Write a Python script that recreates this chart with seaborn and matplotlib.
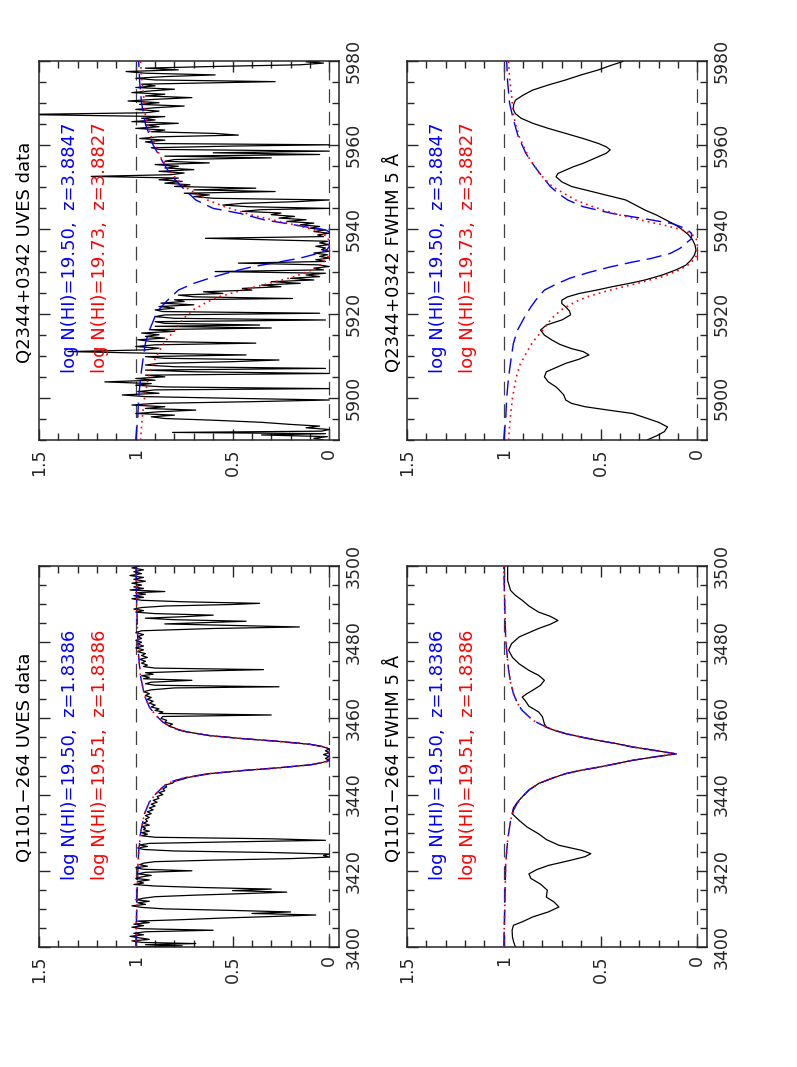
import numpy as np
import pandas as pd
import matplotlib
matplotlib.use("Agg")
import matplotlib.pyplot as plt
import seaborn as sns
from matplotlib.ticker import MultipleLocator, FixedLocator, FuncFormatter

sns.set_style("ticks")
plt.rcParams["font.family"] = ["DejaVu Sans"]

# ---------------- data (wavelength [A], normalised flux) ----------------
q2344_uves = [
    (5890.0, 0.03), (5890.4, 0.08), (5890.8, 0.01), (5891.2, 0.35), (5891.5, 0.02), (5891.8, 0.81),
    (5892.1, 0.04), (5892.5, 0.00), (5892.9, 0.12), (5893.3, 0.05), (5893.7, 0.20), (5894.2, 0.35),
    (5894.7, 0.60), (5895.1, 0.85), (5895.5, 0.92), (5895.9, 0.80), (5896.3, 1.00), (5896.7, 0.88),
    (5897.1, 0.69), (5897.5, 0.95), (5897.9, 0.85), (5898.3, 1.02), (5898.7, 0.90), (5899.1, 0.40),
    (5899.5, 0.00), (5899.9, 0.50), (5900.3, 0.95), (5900.7, 1.07), (5901.1, 0.88), (5901.5, 0.99),
    (5901.9, 0.90), (5902.2, 0.00), (5902.6, 0.85), (5903.0, 1.00), (5903.4, 0.92), (5903.8, 1.16),
    (5904.2, 0.90), (5904.6, 1.00), (5905.0, 0.85), (5905.4, 0.95), (5905.8, 0.00), (5906.2, 0.70),
    (5906.6, 0.95), (5907.0, 0.02), (5907.4, 0.80), (5907.8, 0.95), (5908.2, 0.88), (5908.6, 0.50),
    (5909.0, 0.26), (5909.4, 0.85), (5909.8, 0.95), (5910.2, 0.43), (5910.6, 0.92), (5911.0, 1.35),
    (5911.4, 0.95), (5911.8, 0.88), (5912.2, 1.00), (5912.6, 0.90), (5913.0, 0.38), (5913.4, 0.92),
    (5913.8, 0.99), (5914.2, 0.85), (5914.6, 0.95), (5915.0, 0.88), (5915.4, 0.97), (5915.8, 0.80),
    (5916.2, 0.93), (5916.6, 0.30), (5917.0, 0.90), (5917.3, 0.36), (5917.7, 0.85), (5918.1, 0.90),
    (5918.5, 0.02), (5918.9, 0.80), (5919.3, 0.90), (5919.7, 0.85), (5920.1, 0.05), (5920.5, 0.86),
    (5920.9, 0.90), (5921.3, 0.80), (5921.7, 0.88), (5922.1, 0.70), (5922.5, 0.87), (5922.9, 0.75),
    (5923.3, 0.80), (5923.6, 0.19), (5924.0, 0.70), (5924.4, 0.78), (5924.8, 0.55), (5925.2, 0.65),
    (5925.6, 0.40), (5926.0, 0.45), (5926.4, 0.25), (5926.8, 0.35), (5927.2, 0.15), (5927.6, 0.30),
    (5928.0, 0.08), (5928.4, 0.20), (5928.8, 0.05), (5929.2, 0.12), (5929.6, 0.02), (5930.0, 0.59),
    (5930.4, 0.03), (5930.8, 0.08), (5931.2, 0.00), (5931.6, 0.06), (5932.0, 0.47), (5932.4, 0.02),
    (5932.8, 0.07), (5933.2, 0.00), (5933.6, 0.05), (5934.0, 0.01), (5934.4, 0.08), (5934.8, 0.00),
    (5935.2, 0.04), (5935.6, 0.02), (5936.0, 0.07), (5936.4, 0.00), (5936.8, 0.05), (5937.2, 0.01),
    (5937.9, 0.64), (5938.3, 0.03), (5938.7, 0.06), (5939.1, 0.00), (5939.5, 0.08), (5939.9, 0.02),
    (5940.3, 0.10), (5940.7, 0.05), (5941.1, 0.15), (5941.5, 0.08), (5941.9, 0.22), (5942.3, 0.12),
    (5942.7, 0.26), (5943.1, 0.18), (5943.5, 0.30), (5943.9, 0.25), (5944.3, 0.45), (5944.7, 0.35),
    (5945.0, 0.00), (5945.4, 0.42), (5945.8, 0.55), (5946.2, 0.45), (5946.6, 0.17), (5947.0, 0.00),
    (5947.4, 0.60), (5947.8, 0.70), (5948.2, 0.62), (5948.6, 0.75), (5949.0, 0.28), (5949.4, 0.70),
    (5949.8, 0.38), (5950.2, 0.80), (5950.6, 0.72), (5951.0, 0.85), (5951.4, 0.76), (5951.8, 0.88),
    (5952.2, 0.78), (5952.6, 1.23), (5953.0, 0.82), (5953.4, 0.75), (5953.8, 0.88), (5954.2, 0.70),
    (5954.6, 0.85), (5955.0, 0.78), (5955.4, 0.90), (5955.8, 0.62), (5956.2, 0.85), (5956.6, 0.80),
    (5957.0, 0.30), (5957.4, 0.85), (5957.8, 0.05), (5958.2, 0.60), (5958.6, 0.00), (5959.0, 0.88),
    (5959.4, 0.92), (5959.8, 0.50), (5960.1, 0.00), (5960.4, 0.90), (5960.8, 0.95), (5961.2, 0.85),
    (5961.6, 0.98), (5962.0, 0.88), (5962.4, 0.47), (5962.8, 0.59), (5963.2, 0.92), (5963.6, 0.85),
    (5964.0, 1.00), (5964.4, 0.88), (5964.8, 0.95), (5965.2, 0.78), (5965.6, 1.02), (5966.0, 0.90),
    (5966.4, 0.97), (5966.8, 0.85), (5967.3, 1.60), (5967.7, 0.95), (5968.1, 0.88), (5968.5, 1.00),
    (5968.9, 0.90), (5969.3, 0.75), (5969.7, 0.98), (5970.1, 0.88), (5970.5, 1.04), (5970.9, 0.90),
    (5971.3, 0.71), (5971.7, 0.95), (5972.1, 0.85), (5972.5, 1.02), (5972.9, 0.92), (5973.3, 0.80),
    (5973.7, 1.00), (5974.1, 0.90), (5974.5, 0.97), (5975.1, 0.28), (5975.5, 0.90), (5975.9, 1.00),
    (5976.3, 0.85), (5976.7, 0.59), (5977.1, 0.95), (5977.5, 1.05), (5977.9, 0.78), (5978.3, 0.95),
    (5978.7, 0.60), (5979.1, 0.15), (5979.5, 0.03), (5979.8, 0.12), (5980.0, 0.05),
]

q2344_uves_blue = [
    (5890, 1.0), (5895, 0.99), (5900, 0.985), (5905, 0.975), (5910, 0.96), (5913, 0.95), (5916, 0.93),
    (5920.5, 0.89), (5923, 0.84), (5925.6, 0.78), (5927.2, 0.70), (5928.7, 0.60), (5930, 0.50),
    (5931.1, 0.40), (5932.2, 0.27), (5933.2, 0.15), (5934.3, 0.06), (5935.3, 0.01), (5936, 0.0),
    (5939.4, 0.0), (5939.9, 0.02), (5940.6, 0.12), (5941.4, 0.22), (5942.2, 0.33), (5943.8, 0.46),
    (5945, 0.60), (5947, 0.69), (5950, 0.76), (5953, 0.82), (5956, 0.86), (5960, 0.91), (5965, 0.95),
    (5970, 0.97), (5975, 0.98), (5980, 0.985),
]

q2344_red = [
    (5890, 0.975), (5895, 0.967), (5900, 0.955), (5905, 0.935), (5908, 0.915), (5911, 0.88),
    (5913.3, 0.85), (5916, 0.80), (5919, 0.75), (5921, 0.70), (5922.8, 0.63), (5924, 0.57),
    (5925.6, 0.45), (5927.2, 0.31), (5928.8, 0.18), (5930.4, 0.09), (5931.8, 0.04), (5933.2, 0.01),
    (5934.5, 0.0), (5937, 0.0), (5938.3, 0.01), (5939.8, 0.07), (5941, 0.17), (5941.8, 0.25),
    (5943.4, 0.40), (5945.4, 0.54), (5947, 0.63), (5950.2, 0.75), (5953, 0.81), (5957, 0.87),
    (5962, 0.92), (5967, 0.95), (5972, 0.96), (5976, 0.97), (5980, 0.975),
]

q2344_fwhm = [
    (5890.0, 0.26), (5891.0, 0.21), (5892.0, 0.17), (5893.1, 0.154), (5894.2, 0.20), (5895.3, 0.27),
    (5896.3, 0.335), (5897.1, 0.46), (5897.9, 0.58), (5898.7, 0.65), (5899.5, 0.68), (5900.7, 0.69),
    (5901.7, 0.71), (5902.6, 0.73), (5903.8, 0.77), (5905.0, 0.79), (5906.2, 0.78), (5907.2, 0.73),
    (5908.2, 0.68), (5909.2, 0.61), (5910.2, 0.56), (5911.0, 0.59), (5911.7, 0.65), (5912.7, 0.71),
    (5913.7, 0.75), (5914.9, 0.79), (5916.1, 0.81), (5917.3, 0.78), (5918.5, 0.70), (5919.7, 0.655),
    (5920.6, 0.66), (5921.6, 0.68), (5922.4, 0.70), (5923.2, 0.70), (5924.0, 0.67), (5924.8, 0.61),
    (5925.6, 0.52), (5926.4, 0.44), (5927.2, 0.35), (5928.0, 0.27), (5929.2, 0.18), (5930.4, 0.11),
    (5931.5, 0.06), (5932.7, 0.033), (5933.9, 0.015), (5935.1, 0.007), (5936.3, 0.012), (5937.5, 0.024),
    (5938.7, 0.045), (5939.9, 0.076), (5941.0, 0.11), (5942.2, 0.16), (5943.4, 0.21), (5944.6, 0.27),
    (5945.8, 0.32), (5947.0, 0.37), (5947.8, 0.44), (5948.6, 0.51), (5949.4, 0.58), (5950.2, 0.65),
    (5951.3, 0.70), (5952.5, 0.73), (5953.3, 0.72), (5954.1, 0.68), (5954.9, 0.64), (5955.7, 0.59),
    (5956.9, 0.53), (5958.1, 0.47), (5958.9, 0.45), (5959.6, 0.47), (5960.4, 0.51), (5961.6, 0.59),
    (5962.8, 0.68), (5964.0, 0.77), (5965.2, 0.85), (5966.4, 0.91), (5967.5, 0.94), (5968.4, 0.95),
    (5969.5, 0.95), (5970.7, 0.94), (5971.9, 0.90), (5973.1, 0.85), (5974.3, 0.77), (5975.5, 0.68),
    (5976.7, 0.60), (5977.9, 0.51), (5978.9, 0.45), (5979.8, 0.39), (5980.0, 0.38),
]

q2344_fwhm_blue = [
    (5890, 1.0), (5895, 0.99), (5900, 0.985), (5905, 0.975), (5910, 0.96), (5913, 0.95), (5916, 0.93),
    (5919, 0.895), (5921.6, 0.86), (5923.5, 0.83), (5925.6, 0.79), (5927, 0.73), (5928.4, 0.66),
    (5929.8, 0.56), (5931.1, 0.45), (5932.2, 0.34), (5933.1, 0.24), (5934.3, 0.14), (5935.5, 0.09),
    (5936.7, 0.06), (5937.8, 0.03), (5939.1, 0.03), (5940.2, 0.06), (5941.4, 0.13), (5942.6, 0.28),
    (5943.8, 0.44), (5945.4, 0.59), (5947, 0.67), (5948.6, 0.72), (5950.2, 0.76), (5952.5, 0.80),
    (5954.9, 0.84), (5958, 0.885), (5962, 0.925), (5966, 0.95), (5970, 0.97), (5975, 0.98), (5980, 0.985),
]

q1101_uves = [
    (3400.0, 1.00), (3400.3, 0.76), (3400.6, 0.95), (3400.9, 0.69), (3401.2, 0.97), (3401.6, 1.02),
    (3402.0, 0.93), (3402.4, 0.98), (3402.8, 1.03), (3403.2, 0.96), (3403.6, 1.01), (3404.0, 0.95),
    (3404.4, 0.60), (3404.8, 0.97), (3405.2, 1.02), (3405.6, 0.96), (3406.0, 1.01), (3406.4, 0.93),
    (3406.8, 0.99), (3407.2, 0.75), (3407.6, 0.55), (3408.0, 0.30), (3408.4, 0.07), (3408.8, 0.40),
    (3409.2, 0.20), (3409.6, 0.50), (3410.0, 0.85), (3410.4, 0.97), (3410.8, 1.02), (3411.2, 0.95),
    (3411.6, 0.99), (3412.0, 0.93), (3412.4, 1.00), (3412.8, 0.96), (3413.2, 0.90), (3413.6, 0.70),
    (3414.0, 0.45), (3414.4, 0.22), (3414.8, 0.50), (3415.2, 0.30), (3415.6, 0.65), (3416.0, 0.90),
    (3416.4, 1.01), (3416.8, 0.96), (3417.2, 0.99), (3417.6, 0.93), (3418.0, 1.00), (3418.4, 0.97),
    (3418.8, 0.92), (3419.2, 0.99), (3419.6, 0.95), (3420.0, 0.71), (3420.4, 0.96), (3420.8, 1.00),
    (3421.2, 0.94), (3421.6, 0.98), (3422.0, 0.96), (3422.4, 0.90), (3422.8, 0.60), (3423.2, 0.20),
    (3423.6, 0.00), (3424.0, 0.03), (3424.4, 0.00), (3424.8, 0.30), (3425.2, 0.80), (3425.6, 0.96),
    (3426.0, 0.99), (3426.4, 0.94), (3426.8, 0.98), (3427.2, 0.93), (3427.6, 0.50), (3428.0, 0.02),
    (3428.4, 0.30), (3428.8, 0.90), (3429.2, 0.97), (3429.6, 0.94), (3430.0, 0.97), (3430.4, 0.93),
    (3430.8, 0.96), (3431.2, 0.95), (3431.6, 0.97), (3432.0, 0.93), (3432.5, 0.96), (3433.0, 0.94),
    (3433.5, 0.95), (3434.0, 0.93), (3434.5, 0.95), (3435.0, 0.92), (3435.5, 0.94), (3436.0, 0.91),
    (3436.5, 0.93), (3437.0, 0.90), (3437.5, 0.92), (3438.0, 0.89), (3438.5, 0.91), (3439.0, 0.88),
    (3439.5, 0.89), (3440.0, 0.86), (3440.5, 0.88), (3441.0, 0.85), (3441.5, 0.86), (3442.0, 0.84),
    (3442.5, 0.85), (3443.0, 0.81), (3443.5, 0.80), (3444.0, 0.76), (3444.5, 0.73), (3445.5, 0.62),
    (3446.3, 0.45), (3447.0, 0.27), (3447.8, 0.10), (3448.5, 0.03), (3449.0, 0.00), (3449.5, 0.02),
    (3450.0, 0.00), (3450.5, 0.03), (3451.0, 0.00), (3451.5, 0.02), (3452.0, 0.00), (3452.5, 0.03),
    (3453.2, 0.10), (3454.0, 0.27), (3454.7, 0.45), (3455.5, 0.62), (3456.5, 0.74), (3457.0, 0.78),
    (3457.5, 0.80), (3458.0, 0.83), (3458.5, 0.81), (3459.0, 0.85), (3459.5, 0.84), (3460.0, 0.87),
    (3460.5, 0.86), (3460.9, 0.30), (3461.3, 0.88), (3461.7, 0.86), (3462.1, 0.90), (3462.5, 0.88),
    (3463.0, 0.92), (3463.5, 0.90), (3464.0, 0.93), (3464.5, 0.91), (3465.0, 0.94), (3465.5, 0.92),
    (3466.0, 0.95), (3466.5, 0.93), (3467.0, 0.96), (3467.5, 0.92), (3468.0, 0.80), (3468.3, 0.26),
    (3468.7, 0.90), (3469.1, 0.95), (3469.5, 0.92), (3470.0, 0.71), (3470.4, 0.96), (3470.8, 0.93),
    (3471.2, 0.97), (3471.6, 0.91), (3472.0, 0.95), (3472.4, 0.70), (3472.8, 0.34), (3473.2, 0.90),
    (3473.6, 0.96), (3474.0, 0.94), (3474.5, 0.97), (3475.0, 0.95), (3475.5, 0.98), (3476.0, 0.94),
    (3476.5, 0.97), (3477.0, 0.95), (3477.5, 0.99), (3478.0, 0.96), (3478.5, 1.00), (3479.0, 0.96),
    (3479.5, 0.99), (3480.0, 0.97), (3480.5, 1.00), (3481.0, 0.97), (3481.5, 0.99), (3482.0, 0.96),
    (3482.5, 1.00), (3483.0, 0.97), (3483.6, 0.60), (3484.0, 0.155), (3484.4, 0.50), (3484.8, 0.85),
    (3485.2, 0.60), (3485.5, 0.43), (3485.9, 0.80), (3486.3, 0.95), (3486.7, 0.75), (3487.1, 0.60),
    (3487.5, 0.90), (3487.9, 1.00), (3488.3, 0.96), (3488.7, 1.01), (3489.1, 0.97), (3489.5, 0.85),
    (3489.9, 0.50), (3490.2, 0.36), (3490.6, 0.75), (3491.0, 0.97), (3491.4, 1.02), (3491.8, 0.96),
    (3492.2, 1.01), (3492.6, 0.95), (3493.0, 1.00), (3493.3, 0.85), (3493.7, 1.03), (3494.1, 0.96),
    (3494.5, 1.01), (3495.0, 0.97), (3495.5, 1.02), (3496.0, 0.95), (3496.5, 1.01), (3497.0, 0.96),
    (3497.5, 1.03), (3498.0, 0.97), (3498.5, 1.01), (3499.0, 0.96), (3499.5, 1.02), (3500.0, 0.98),
]

q1101_uves_model = [
    (3400, 1.0), (3410, 0.995), (3420, 0.99), (3425, 0.985), (3430, 0.975), (3435, 0.955),
    (3438, 0.93), (3440, 0.90), (3442, 0.86), (3443.5, 0.81), (3444.5, 0.74), (3445.5, 0.62),
    (3446.3, 0.45), (3447, 0.27), (3447.8, 0.10), (3448.5, 0.02), (3449, 0.0), (3452, 0.0),
    (3452.5, 0.02), (3453.2, 0.10), (3454, 0.27), (3454.7, 0.45), (3455.5, 0.62), (3456.5, 0.74),
    (3457.5, 0.81), (3459, 0.86), (3461, 0.90), (3463, 0.93), (3466, 0.955), (3471, 0.975),
    (3476, 0.985), (3481, 0.99), (3490, 0.995), (3500, 1.0),
]

q1101_fwhm = [
    (3400.0, 0.94), (3401.5, 0.95), (3402.6, 0.955), (3404.4, 0.957), (3405.7, 0.95), (3406.6, 0.905),
    (3407.9, 0.85), (3409.2, 0.77), (3410.5, 0.715), (3411.8, 0.74), (3413.1, 0.78), (3414.9, 0.775),
    (3416.5, 0.81), (3418.0, 0.86), (3419.2, 0.87), (3420.3, 0.83), (3421.4, 0.77), (3422.7, 0.66),
    (3423.7, 0.58), (3424.5, 0.55), (3425.4, 0.60), (3426.7, 0.715), (3428.2, 0.78), (3429.7, 0.82),
    (3431.5, 0.88), (3433.2, 0.92), (3435.0, 0.957), (3436.5, 0.95), (3438.0, 0.93), (3439.4, 0.905),
    (3441.2, 0.87), (3442.9, 0.82), (3444.3, 0.75), (3445.5, 0.68), (3446.4, 0.60), (3447.2, 0.51),
    (3448.1, 0.42), (3449.0, 0.335), (3449.9, 0.22), (3450.7, 0.11), (3451.6, 0.22), (3452.5, 0.335),
    (3453.4, 0.42), (3454.2, 0.51), (3455.1, 0.60), (3456.0, 0.68), (3456.9, 0.74), (3457.7, 0.78),
    (3458.5, 0.79), (3460.4, 0.80), (3461.7, 0.82), (3463.2, 0.87), (3464.7, 0.89), (3465.6, 0.905),
    (3466.5, 0.88), (3467.4, 0.85), (3468.7, 0.81), (3470.0, 0.79), (3471.3, 0.82), (3472.6, 0.87),
    (3474.3, 0.92), (3476.0, 0.955), (3477.9, 0.975), (3479.6, 0.96), (3481.4, 0.92), (3482.5, 0.87),
    (3483.6, 0.82), (3484.7, 0.76), (3485.7, 0.72), (3486.8, 0.76), (3487.9, 0.82), (3489.5, 0.87),
    (3491.0, 0.905), (3492.3, 0.94), (3493.6, 0.965), (3496.2, 0.98), (3500.0, 0.98),
]

q1101_fwhm_model = [
    (3400, 1.0), (3410, 0.995), (3421.9, 0.99), (3428, 0.98), (3433.2, 0.965), (3435.9, 0.95),
    (3437.8, 0.93), (3439.4, 0.905), (3441.2, 0.87), (3442.9, 0.82), (3444.3, 0.75), (3445.5, 0.68),
    (3446.4, 0.60), (3447.2, 0.51), (3448.1, 0.42), (3449.0, 0.335), (3449.9, 0.22), (3450.7, 0.11),
    (3451.6, 0.22), (3452.5, 0.335), (3453.4, 0.42), (3454.2, 0.51), (3455.1, 0.60), (3456.0, 0.68),
    (3456.9, 0.74), (3457.7, 0.78), (3459.5, 0.85), (3462.1, 0.905), (3464, 0.93), (3466.5, 0.95),
    (3469.5, 0.965), (3472.6, 0.975), (3480.5, 0.99), (3490, 0.995), (3500, 1.0),
]

flux_ticks = [0, 0.5, 1, 1.5]
titles = ["Q2344+0342 UVES data", "Q2344+0342 FWHM 5 \u00c5",
          "Q1101\u2212264 UVES data", "Q1101\u2212264 FWHM 5 \u00c5"]
q2344_labels = ["log N(HI)=19.50,  z=3.8847", "log N(HI)=19.73,  z=3.8827"]
q1101_labels = ["log N(HI)=19.50,  z=1.8386", "log N(HI)=19.51,  z=1.8386"]

# ---------------- figure ----------------
W, H = 797, 1067
fig = plt.figure(figsize=(W / 100, H / 100), dpi=100)
fig.patch.set_facecolor("white")


def frame(px0, py0, px1, py1):
    return [px0 / W, 1 - py1 / H, (px1 - px0) / W, (py1 - py0) / H]


BLUE = "#0000ff"
RED = "#ff0000"


def draw_series(ax, pairs, color, lw, ls, z):
    d = pd.DataFrame(pairs, columns=["lam", "flux"])
    sns.lineplot(data=d, x="flux", y="lam", sort=False, estimator=None, color=color,
                 linewidth=lw, linestyle=ls, ax=ax, zorder=z)


def panel(rect, data, blue, red, lam_lo, lam_hi, labels):
    ax = fig.add_axes(rect)
    ax.axvline(1.0, color="0.25", lw=0.9, linestyle=(0, (11, 7)), zorder=1)
    ax.axvline(0.0, color="0.25", lw=0.9, linestyle=(0, (11, 7)), zorder=1)
    draw_series(ax, data, "black", 0.9, "-", 2)
    draw_series(ax, blue, BLUE, 1.0, (0, (11, 5)), 3)
    draw_series(ax, red, RED, 1.2, (0, (1, 2.5)), 4)
    ax.set_xlim(1.5, -0.05)
    ax.set_ylim(lam_lo, lam_hi)
    ax.set_xlabel("")
    ax.set_ylabel("")
    ax.xaxis.set_major_locator(FixedLocator(flux_ticks))
    ax.xaxis.set_major_formatter(FuncFormatter(lambda v, p: f"{v:g}"))
    ax.xaxis.set_minor_locator(MultipleLocator(0.1))
    ax.yaxis.set_major_locator(MultipleLocator(20))
    ax.yaxis.set_minor_locator(MultipleLocator(5))
    ax.yaxis.set_major_formatter(FuncFormatter(lambda v, p: f"{v:.0f}"))
    ax.tick_params(axis="x", which="both", direction="in", top=True, bottom=True,
                   labelrotation=90, labelsize=12.5, pad=6)
    ax.tick_params(axis="y", which="both", direction="in", left=True, right=True,
                   labelleft=False, labelright=True, labelrotation=90, labelsize=12.5, pad=4)
    ax.tick_params(which="major", length=8, width=1)
    ax.tick_params(which="minor", length=5, width=1)
    for lab in ax.get_yticklabels():
        lab.set_va("center")
        lab.set_ha("left")
    for lab in ax.get_xticklabels():
        lab.set_ha("center")
        lab.set_va("top")
    for s in ax.spines.values():
        s.set_linewidth(1.1)
        s.set_visible(True)
    ax.text(0.103, 0.176, labels[0], transform=ax.transAxes, rotation=90,
            ha="center", va="bottom", color=BLUE, fontsize=13)
    ax.text(0.203, 0.176, labels[1], transform=ax.transAxes, rotation=90,
            ha="center", va="bottom", color=RED, fontsize=13)
    return ax


panel(frame(39, 61, 339, 440), q2344_uves, q2344_uves_blue, q2344_red, 5890, 5980, q2344_labels)
panel(frame(407, 61, 707, 440), q2344_fwhm, q2344_fwhm_blue, q2344_red, 5890, 5980, q2344_labels)
panel(frame(39, 566, 339, 947), q1101_uves, q1101_uves_model, q1101_uves_model, 3400, 3500, q1101_labels)
panel(frame(407, 566, 707, 947), q1101_fwhm, q1101_fwhm_model, q1101_fwhm_model, 3400, 3500, q1101_labels)

# panel titles (rotated, to the left of each frame)
for (px, py), t in zip([(25, 252), (393, 262), (25, 757), (393, 758)], titles):
    fig.text(px / W, 1 - py / H, t, rotation=90, ha="center", va="center", fontsize=13, color="black")

fig.savefig("out.png", dpi=100, facecolor="white")
